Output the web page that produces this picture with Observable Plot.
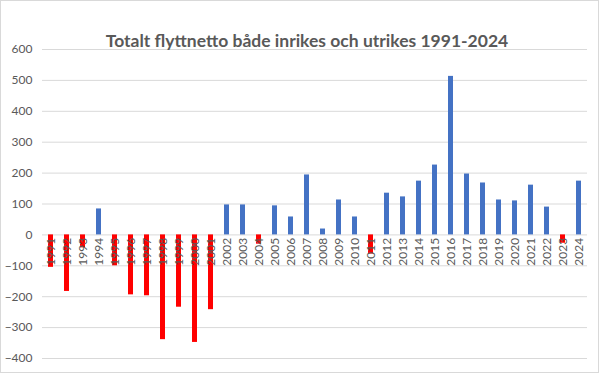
<!DOCTYPE html>
<html><head><meta charset="utf-8">
<script src="https://cdn.jsdelivr.net/npm/d3@7"></script>
<script src="https://cdn.jsdelivr.net/npm/@observablehq/plot@0.6"></script>
<style>
body{margin:0;background:#fff;}
#wrap{position:relative;width:601px;height:375px;}
#border{position:absolute;left:0;top:0;width:597px;height:371px;border:1px solid #d9d9d9;pointer-events:none;}
</style></head><body><div id="wrap"><div id="border"></div></div>
<script>
const title = "Totalt flyttnetto både inrikes och utrikes 1991-2024";
const years = ["1991","1992","1993","1994","1995","1996","1997","1998","1999","2000","2001","2002","2003","2004","2005","2006","2007","2008","2009","2010","2011","2012","2013","2014","2015","2016","2017","2018","2019","2020","2021","2022","2023","2024"];
const values = [-105,-183,-42,84,-100,-194,-197,-339,-234,-348,-242,97,97,-30,94,58,194,19,113,58,-62,135,123,174,226,513,197,168,113,110,161,90,-27,174];
const yTicks = [-400,-300,-200,-100,0,100,200,300,400,500,600];

const data = years.map((y, i) => ({year: y, value: values[i]}));
const neg = data.filter(d => d.value < 0);
const pos = data.filter(d => d.value >= 0);

const chart = Plot.plot({
  width: 601, height: 375,
  marginLeft: 42, marginRight: 14, marginTop: 49, marginBottom: 17,
  style: {fontFamily: "Lato, 'Open Sans', sans-serif", fontSize: "12px", color: "#595959", background: "transparent"},
  x: {domain: years, paddingInner: 0.66, paddingOuter: 0.33, axis: null},
  y: {domain: [-400, 600], ticks: yTicks, tickSize: 0, tickPadding: 10, label: null},
  marks: [
    Plot.ruleY(yTicks, {stroke: "#d9d9d9", strokeWidth: 1}),
    Plot.barY(pos, {x: "year", y: "value", fill: "#4472c4"}),
    Plot.barY(neg, {x: "year", y: "value", fill: "#ff0000"}),
    Plot.text(data, {x: "year", y: 0, text: "year", rotate: -90, textAnchor: "end", dy: 3, fill: "#595959", fontSize: 12}),
    Plot.text([title], {frameAnchor: "top", dx: -8, dy: -3, lineAnchor: "bottom", fontSize: 17.5, fontWeight: "bold", fill: "#595959"})
  ]
});
document.getElementById("wrap").appendChild(chart);
</script></body></html>
